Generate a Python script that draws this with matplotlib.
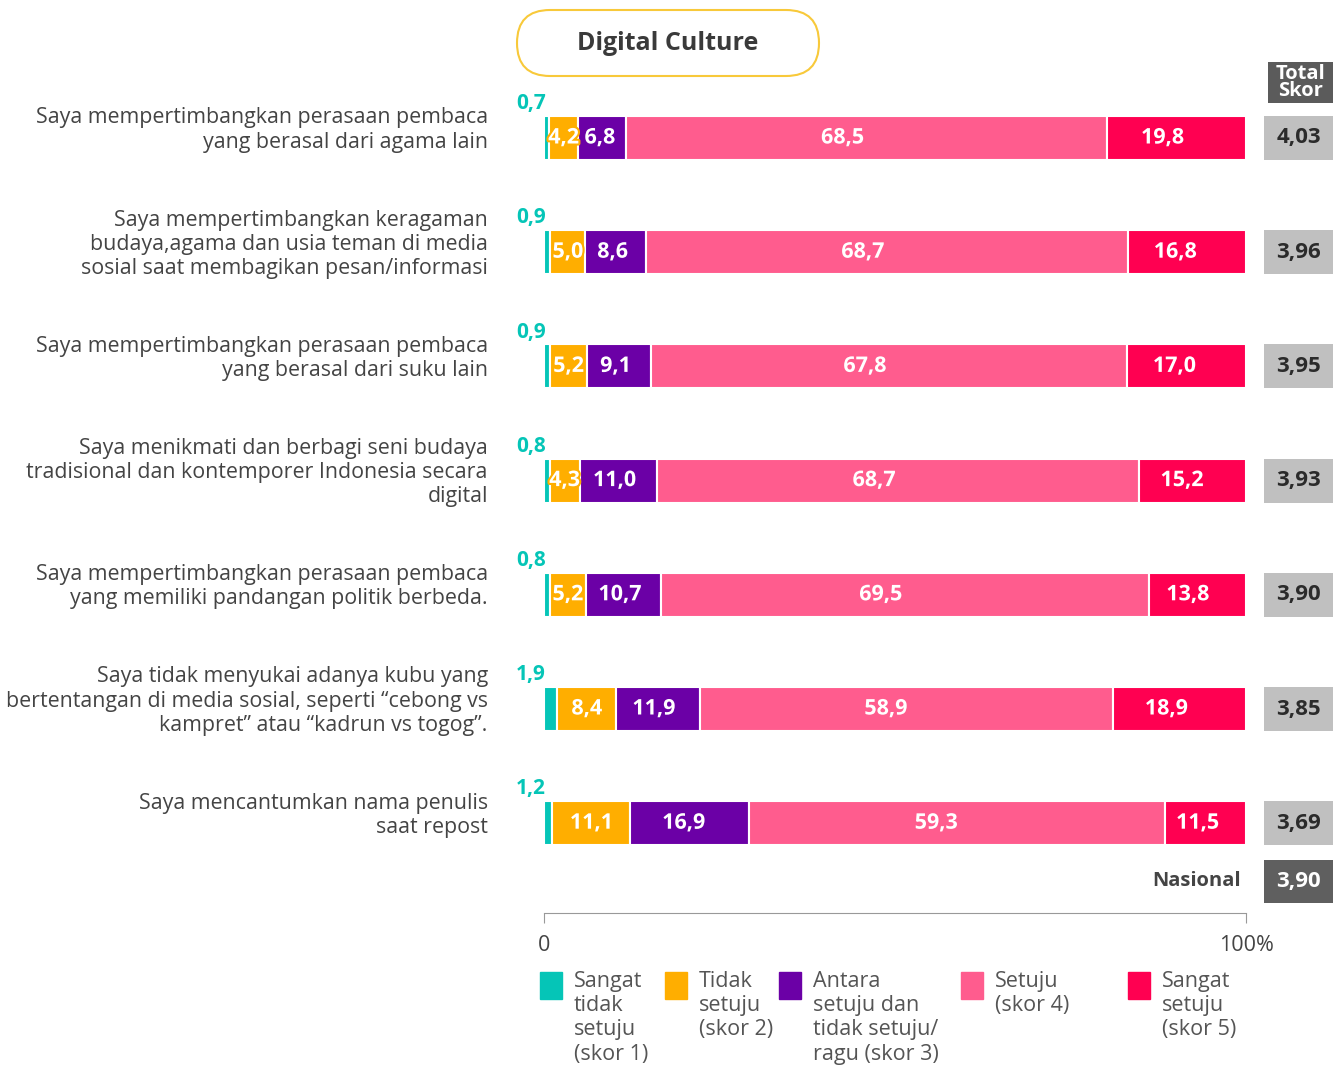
import matplotlib
matplotlib.use("Agg")
import matplotlib.pyplot as plt
from matplotlib.patches import FancyBboxPatch
import matplotlib.patheffects as pe

plt.rcParams['font.family'] = ['Open Sans', 'DejaVu Sans']

# pernyataan dan persentase jawaban tiap skor (1..5)
labels = [
    "Saya mempertimbangkan perasaan pembaca\nyang berasal dari agama lain",
    "Saya mempertimbangkan keragaman\nbudaya,agama dan usia teman di media\nsosial saat membagikan pesan/informasi",
    "Saya mempertimbangkan perasaan pembaca\nyang berasal dari suku lain",
    "Saya menikmati dan berbagi seni budaya\ntradisional dan kontemporer Indonesia secara\ndigital",
    "Saya mempertimbangkan perasaan pembaca\nyang memiliki pandangan politik berbeda.",
    "Saya tidak menyukai adanya kubu yang\nbertentangan di media sosial, seperti \u201ccebong vs\nkampret\u201d atau \u201ckadrun vs togog\u201d.",
    "Saya mencantumkan nama penulis\nsaat repost",
]
skor1 = [0.7, 0.9, 0.9, 0.8, 0.8, 1.9, 1.2]
skor2 = [4.2, 5.0, 5.2, 4.3, 5.2, 8.4, 11.1]
skor3 = [6.8, 8.6, 9.1, 11.0, 10.7, 11.9, 16.9]
skor4 = [68.5, 68.7, 67.8, 68.7, 69.5, 58.9, 59.3]
skor5 = [19.8, 16.8, 17.0, 15.2, 13.8, 18.9, 11.5]
total_skor = [4.03, 3.96, 3.95, 3.93, 3.90, 3.85, 3.69]
nasional = 3.90

legend_labels = ["Sangat\ntidak\nsetuju\n(skor 1)", "Tidak\nsetuju\n(skor 2)",
                 "Antara\nsetuju dan\ntidak setuju/\nragu (skor 3)", "Setuju\n(skor 4)",
                 "Sangat\nsetuju\n(skor 5)"]
colors = ["#05c5b7", "#ffae00", "#6b00a6", "#ff5c8e", "#ff0051"]

TXT = "#444444"

def fmt(v, d=1):
    return f"{v:.{d}f}".replace(".", ",")

W, H = 1334, 1067
fig = plt.figure(figsize=(W / 100, H / 100), dpi=100)

# area batang: 0..100% antara piksel 544 dan 1246
ax = fig.add_axes([544 / W, 1 - 913 / H, 702 / W, (913 - 55) / H])
ylim = ((913 - 138) / 114.2, (55 - 138) / 114.2)
ax.set_ylim(*ylim)
ax.set_xlim(0, 100)

bar_h = 0.385
rows = list(range(len(labels)))
series = [skor1, skor2, skor3, skor4, skor5]
left = [0.0] * len(rows)
label_pos = [0.5, 0.5, 0.45, 0.45, 0.4]
for k, (vals, col) in enumerate(zip(series, colors)):
    ax.barh(rows, vals, left=left, height=bar_h, color=col, edgecolor="white", linewidth=1.5)
    for i, v in enumerate(vals):
        if k == 0:
            ax.text(-4.0, i - 0.3, fmt(v), ha="left", va="center", color=col,
                    fontsize=15, fontweight="bold")
        else:
            ax.text(left[i] + v * label_pos[k], i, fmt(v), ha="center", va="center",
                    color="white", fontsize=15.5, fontweight="bold",
                    path_effects=[pe.withStroke(linewidth=3, foreground=col)])
    left = [l + v for l, v in zip(left, vals)]

for i, lab in enumerate(labels):
    ax.text(-8.0, i - 0.07, lab, ha="right", va="center", color=TXT,
            fontsize=15.4, linespacing=1.2)

ax.text(99.3, 6.51, "Nasional", ha="right", va="center", color=TXT,
        fontsize=14.5, fontweight="bold")

for s in ["top", "right", "left"]:
    ax.spines[s].set_visible(False)
ax.spines["bottom"].set_color("#999999")
ax.set_yticks([])
ax.set_xticks([0, 100])
ax.set_xticklabels(["0", "100%"])
ax.tick_params(axis="x", colors="#999999", length=7, pad=9, labelsize=15.5,
               labelcolor=TXT)

# kolom total skor
ax2 = fig.add_axes([1264 / W, 1 - 913 / H, 69 / W, (913 - 55) / H])
ax2.set_ylim(*ylim)
ax2.set_xlim(0, 1)
ax2.axis("off")
ax2.barh(rows, [1] * len(rows), height=bar_h, color="#c0c0c0")
for i, t in enumerate(total_skor):
    ax2.text(0.5, i, fmt(t, 2), ha="center", va="center",
             color="#2b2b2b", fontsize=16, fontweight="bold")
ax2.barh([-0.486], [0.942], left=0.058, height=0.36, color="#5b5b5b")
ax2.text(0.53, -0.486, "Total\nSkor", ha="center", va="center", color="white",
         fontsize=14.5, fontweight="bold", linespacing=0.8)
ax2.barh([6.51], [1], height=0.377, color="#5f5f5f")
ax2.text(0.5, 6.51, fmt(nasional, 2), ha="center", va="center",
         color="white", fontsize=16, fontweight="bold")

# judul dalam kotak membulat
fig.add_artist(FancyBboxPatch((5.17, (H - 76) / 100), 3.02, 0.66,
                              boxstyle="round,pad=0,rounding_size=0.33",
                              transform=fig.dpi_scale_trans, fc="white",
                              ec="#f8c93a", lw=1.5))
fig.text(668 / W, 1 - 44 / H, "Digital Culture", ha="center", va="center",
         color="#3a3a3a", fontsize=18, fontweight="bold")

# legenda
leg_x = [540, 665, 779, 961, 1128]
for x, col, lab in zip(leg_x, colors, legend_labels):
    fig.patches.append(plt.Rectangle((x / W, 1 - 999 / H), 22 / W, 27 / H,
                                     transform=fig.transFigure, color=col, figure=fig))
    fig.text((x + 34) / W, 1 - 971 / H, lab, ha="left", va="top", color="#555555",
             fontsize=15.5, linespacing=1.2)

fig.savefig("out.png", dpi=100)
